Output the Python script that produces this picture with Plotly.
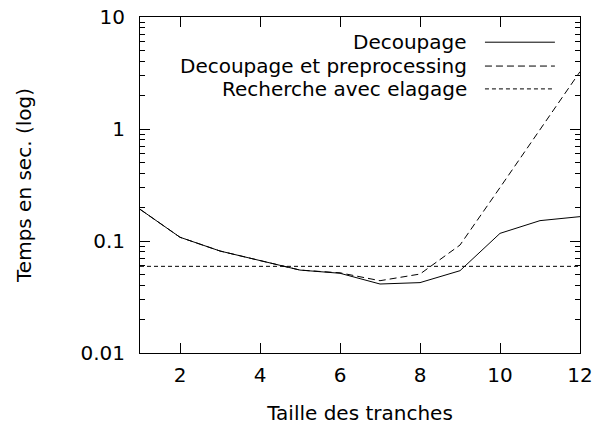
import plotly.graph_objects as go

x = [1, 2, 3, 4, 5, 6, 7, 8, 9, 10, 11, 12]
decoupage = [0.192, 0.108, 0.0814, 0.0667, 0.055, 0.0515, 0.0413, 0.0425, 0.0543, 0.117, 0.152, 0.165]
decoupage_pre = [0.192, 0.108, 0.0814, 0.0667, 0.055, 0.052, 0.0442, 0.0507, 0.092, 0.30, 1.0, 3.25]
recherche = [0.0594] * 12

names = ["Decoupage", "Decoupage et preprocessing", "Recherche avec elagage"]
dashes = ["solid", "7px,4px", "4px,3px"]
series = [decoupage, decoupage_pre, recherche]

FONT = "DejaVu Sans, Arial, sans-serif"
FS = 20

fig = go.Figure()
for nm, ys, d in zip(names, series, dashes):
    fig.add_trace(go.Scatter(x=x, y=ys, mode="lines", name=nm, showlegend=False,
                             line=dict(color="black", width=1, dash=d)))

minor_vals = [m * 10 ** e for e in (-2, -1, 0) for m in range(2, 10)]

fig.update_layout(
    width=602, height=425,
    margin=dict(l=140, r=22, t=17, b=72, autoexpand=False),
    plot_bgcolor="white", paper_bgcolor="white",
    font=dict(family=FONT, size=FS, color="black"),
    xaxis=dict(range=[1, 12], tickvals=[2, 4, 6, 8, 10, 12], ticks="inside", ticklen=10,
               tickcolor="black", showline=True, linecolor="black", linewidth=1,
               mirror="allticks", showgrid=False, zeroline=False, automargin=False,
               ticklabeloverflow="allow", ticklabelstandoff=4,
               title=dict(text="Taille des tranches", font=dict(size=FS), standoff=20)),
    yaxis=dict(type="log", range=[-2, 1], tickvals=[0.01, 0.1, 1, 10],
               ticktext=["0.01", "0.1", "1", "10"], ticks="inside", ticklen=10,
               tickcolor="black", showline=True, linecolor="black", linewidth=1,
               mirror="allticks", showgrid=False, zeroline=False, automargin=False,
               ticklabeloverflow="allow", ticklabelstandoff=10,
               minor=dict(tickvals=minor_vals, ticks="inside", ticklen=5, tickcolor="black", showgrid=False),
               title=dict(text="Temps en sec. (log)", font=dict(size=FS), standoff=43)),
)

# legend (gnuplot style: text right-aligned, sample on the right)
rows_y = [0.925, 0.854, 0.786]
for nm, d, yy in zip(names, dashes, rows_y):
    fig.add_annotation(xref="paper", yref="paper", x=0.746, y=yy, text=nm, showarrow=False,
                       xanchor="right", yanchor="middle", height=22, borderpad=0,
                       font=dict(size=FS, family=FONT))
    fig.add_shape(type="line", xref="paper", yref="paper", x0=0.784, x1=0.943, y0=yy, y1=yy,
                  line=dict(color="black", width=1, dash=d))

fig.write_html("out.html", config={"displayModeBar": False},
               post_script="document.body.style.margin='0';")
